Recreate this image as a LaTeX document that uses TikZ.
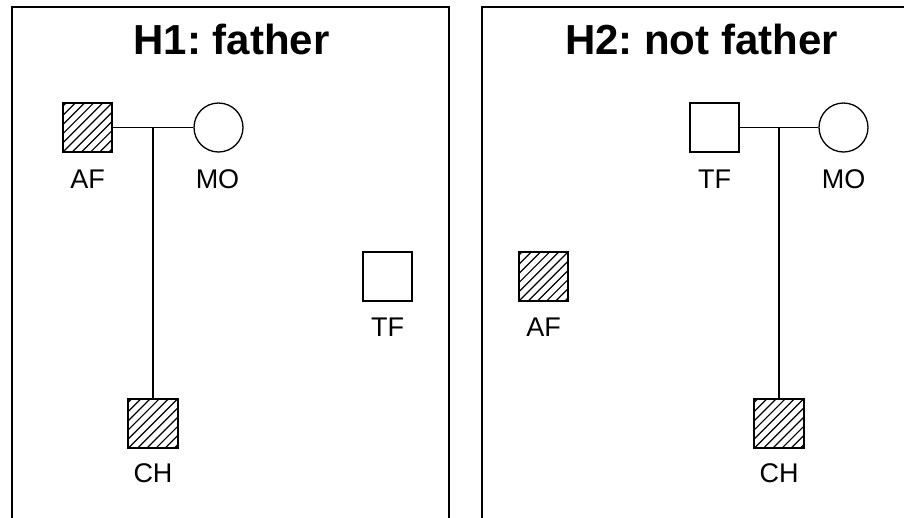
\documentclass[tikz,border=0pt]{standalone}
\usepackage{fontspec}
\setmainfont{Liberation Sans}
\frenchspacing
\usetikzlibrary{calc}
\tikzset{
  panel/.style={line width=1.6pt},
  male/.style={draw, line width=1.3pt, rectangle, minimum size=49pt, inner sep=0pt},
  female/.style={draw, line width=1.3pt, circle, minimum size=49pt, inner sep=0pt},
  hatchline/.style={line width=1.2pt},
  lbl/.style={anchor=base, font=\fontsize{27}{31}\selectfont, inner sep=0pt},
  ttl/.style={anchor=base, font=\bfseries\fontsize{42}{48}\selectfont, inner sep=0pt},
  link/.style={line width=1.4pt}
}
\newcommand{\hatchnode}[1]{%
  \begin{scope}
    \clip (#1.south west) rectangle (#1.north east);
    \foreach \k in {-6,...,6}{
      \draw[hatchline] ($(#1.center)+(\k*9.2-60,60)$) -- ++(120,-120);
    }
  \end{scope}
  \draw[line width=1.3pt] (#1.south west) rectangle (#1.north east);
}
\begin{document}
\begin{tikzpicture}[x=1pt,y=-1pt]
\useasboundingbox (0,0) rectangle (904,517);
\clip (0,0) rectangle (904,517);
\fill[white] (0,0) rectangle (904,517);
% panels
\draw[panel] (12,7) rectangle (449,540);
\draw[panel] (482,7) rectangle (940,540);
% titles
\node[ttl] (T1) at (231.5,54) {H1: father};
\node[ttl] (T2) at (701.5,54) {H2: not father};
% left panel
\node[male] (AF1) at (87.5,127.5) {};
\node[female] (MO1) at (218.5,127.5) {};
\node[male] (TF1) at (387.5,276.5) {};
\node[male] (CH1) at (153,423.5) {};
\hatchnode{AF1}
\hatchnode{CH1}
\coordinate (J1) at ($(AF1.east)!0.5!(MO1.west)$);
\draw[link] (AF1.east) -- (MO1.west);
\draw[link] (J1) -- (J1 |- CH1.north);
\node[lbl] (lAF1) at (87.5,188) {AF};
\node[lbl] (lMO1) at (217.5,188) {MO};
\node[lbl] (lTF1) at (387.5,336) {TF};
\node[lbl] (lCH1) at (153,482) {CH};
% right panel
\node[male] (TF2) at (714.5,127.5) {};
\node[female] (MO2) at (843.5,127.5) {};
\node[male] (AF2) at (543.5,276.5) {};
\node[male] (CH2) at (779,423.5) {};
\hatchnode{AF2}
\hatchnode{CH2}
\coordinate (J2) at ($(TF2.east)!0.5!(MO2.west)$);
\draw[link] (TF2.east) -- (MO2.west);
\draw[link] (J2) -- (J2 |- CH2.north);
\node[lbl] (lTF2) at (714.5,188) {TF};
\node[lbl] (lMO2) at (843.5,188) {MO};
\node[lbl] (lAF2) at (543.5,336) {AF};
\node[lbl] (lCH2) at (779,482) {CH};
\end{tikzpicture}
\end{document}
